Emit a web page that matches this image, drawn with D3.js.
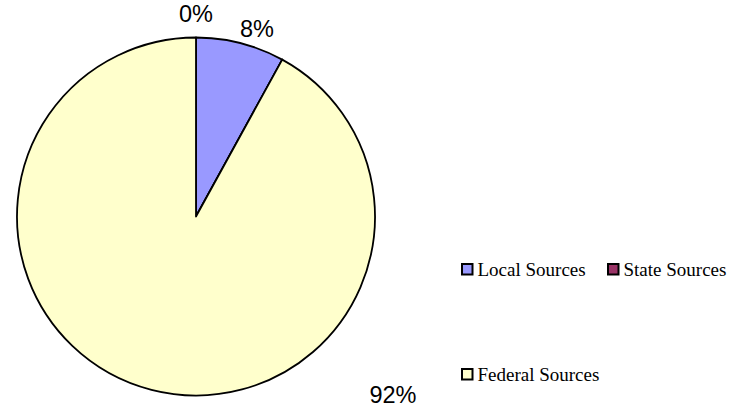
<!DOCTYPE html>
<html>
<head>
<meta charset="utf-8">
<script src="https://cdn.jsdelivr.net/npm/d3@7/dist/d3.min.js"></script>
<style>
  html, body { margin: 0; padding: 0; background: #fff; }
  svg { display: block; }
</style>
</head>
<body>
<svg id="chart" width="746" height="407"></svg>
<script>
// Funding sources and their shares (percent)
const categories = ["Local Sources", "State Sources", "Federal Sources"];
const values = [8, 0, 92];
const colors = ["#9999FF", "#993366", "#FFFFCC"];
const pctLabels = ["8%", "0%", "92%"];

const svg = d3.select("#chart");
const cx = 196, cy = 216.5, r = 179;

const pie = d3.pie().sort(null).value(d => d)(values);
const arc = d3.arc().innerRadius(0).outerRadius(r);

const g = svg.append("g").attr("transform", `translate(${cx},${cy})`);

g.selectAll("path.slice")
  .data(pie)
  .join("path")
  .attr("class", "slice")
  .attr("d", arc)
  .attr("fill", (d, i) => colors[i])
  .attr("stroke", "#000")
  .attr("stroke-width", 1.8)
  .attr("stroke-linejoin", "round");

// Percentage labels placed outside the pie
const labelPos = [
  { x: 257, y: 37 },   // Local
  { x: 196, y: 22 },   // State
  { x: 393, y: 403 }   // Federal
];
svg.selectAll("text.pct")
  .data(pie)
  .join("text")
  .attr("class", "pct")
  .attr("x", (d, i) => labelPos[i].x)
  .attr("y", (d, i) => labelPos[i].y)
  .attr("text-anchor", "middle")
  .attr("font-family", "Liberation Sans, Arial, sans-serif")
  .attr("font-size", 23.5)
  .attr("fill", "#000")
  .text((d, i) => pctLabels[i]);

// Legend
const legendItems = [
  { x: 461, y: 263 },
  { x: 607, y: 263 },
  { x: 461, y: 368 }
];
const lg = svg.selectAll("g.legend")
  .data(categories)
  .join("g")
  .attr("class", "legend")
  .attr("transform", (d, i) => `translate(${legendItems[i].x},${legendItems[i].y})`);

lg.append("rect")
  .attr("x", 1).attr("y", 1)
  .attr("width", 10.5).attr("height", 10.5)
  .attr("fill", (d, i) => colors[i])
  .attr("stroke", "#000")
  .attr("stroke-width", 2);

lg.append("text")
  .attr("x", 16.5)
  .attr("y", 13)
  .attr("font-family", "Liberation Serif, Times New Roman, serif")
  .attr("font-size", 19)
  .attr("fill", "#000")
  .text(d => d);
</script>
</body>
</html>
